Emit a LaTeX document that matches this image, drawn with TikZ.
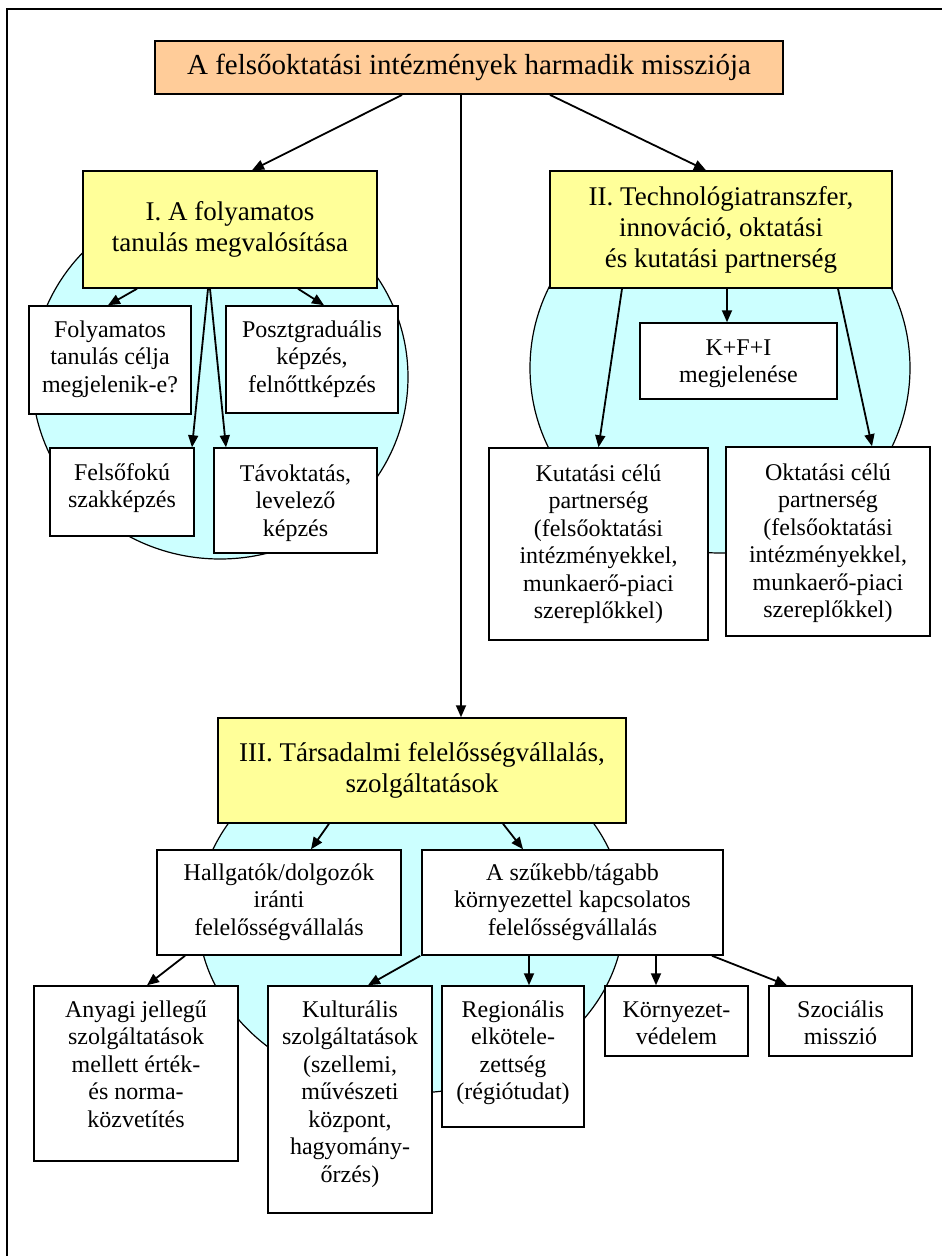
\documentclass[tikz,border=0pt]{standalone}
\usepackage{fontspec}
\setmainfont{Liberation Serif}
\usetikzlibrary{arrows.meta,shadows}
\definecolor{peach}{HTML}{FFCC99}
\definecolor{lemon}{HTML}{FFFF99}
\definecolor{aqua}{HTML}{CCFFFF}
\newcommand{\wbt}[4][32]{\parbox[c][#3pt][t]{#2pt}{\centering\fontsize{24}{27.5}\selectfont\rule{0pt}{#1pt}#4\par}}
\begin{document}
\begin{tikzpicture}[x=1pt,y=-1pt,
  arr/.style={-{Triangle[length=12pt,width=10pt]},line width=1.8pt},
  shad/.style={drop shadow={shadow xshift=1.2pt,shadow yshift=-1.2pt,fill=black!45}},
  wbox/.style={draw,fill=white,line width=1.5pt,inner sep=0pt,shad},
  ybox/.style={draw,fill=lemon,line width=1.5pt,inner sep=0pt,align=center,shad,
    font=\fontsize{27}{31}\selectfont},
  tbox/.style={draw,fill=peach,line width=1.8pt,inner sep=0pt,align=center,shad,
    font=\fontsize{29}{33}\selectfont},
  oval/.style={draw,fill=aqua,line width=1.2pt}]
\useasboundingbox (0,0) rectangle (942,1256);
\fill[white] (0,0) rectangle (942,1256);
\draw[line width=2pt] (7,1300) -- (7,9) -- (960,9);

% ellipses
\draw[oval] (220,377) ellipse [x radius=188pt, y radius=182pt];
\draw[oval] (720,368) ellipse [x radius=190pt, y radius=185pt];
\draw[oval] (411,915) ellipse [x radius=213pt, y radius=178pt];

% title and main boxes
\node[tbox, minimum width=628pt, minimum height=53pt] (T) at (469,67.5)
  {A felsőoktatási intézmények harmadik missziója};
\node[ybox, minimum width=294pt, minimum height=117pt] (B1) at (230,229.5)
  {I. A folyamatos\\tanulás megvalósítása};
\node[ybox, minimum width=342pt, minimum height=117pt] (B2) at (721,229.5)
  {II. Technológiatranszfer,\\innováció, oktatási\\és kutatási partnerség};
\node[ybox, minimum width=408pt, minimum height=105pt] (B3) at (422,770.5)
  {III. Társadalmi felelősségvállalás,\\szolgáltatások};

% group I
\node[wbox] (F1) at (110,360) {\wbt[31]{162}{108}{Folyamatos\\tanulás célja\\megjelenik-e?}};
\node[wbox] (F2) at (312,359.5) {\wbt[31]{172}{107}{Posztgraduális\\képzés,\\felnőttképzés}};
\node[wbox] (F3) at (122,492) {\wbt{144}{88}{Felsőfokú\\szakképzés}};
\node[wbox] (F4) at (295.5,500.5) {\wbt[33]{163}{105}{Távoktatás,\\levelező\\képzés}};

% group II
\node[wbox] (K) at (738.5,361) {\wbt{197}{76}{K+F+I\\megjelenése}};
\node[wbox] (P1) at (598.5,544) {\wbt[33]{219}{192}{Kutatási célú\\partnerség\\(felsőoktatási\\intézményekkel,\\munkaerő-piaci\\szereplőkkel)}};
\node[wbox] (P2) at (828,541.5) {\wbt[33]{204}{189}{Oktatási célú\\partnerség\\(felsőoktatási\\intézményekkel,\\munkaerő-piaci\\szereplőkkel)}};

% group III
\node[wbox] (H) at (279,902.5) {\wbt[30]{244}{105}{Hallgatók/dolgozók\\iránti\\felelősségvállalás}};
\node[wbox] (S) at (572.5,902.5) {\wbt[30]{301}{105}{A szűkebb/tágabb\\környezettel kapcsolatos\\felelősségvállalás}};
\node[wbox] (A) at (136,1073.5) {\wbt[31]{204}{175}{Anyagi jellegű\\szolgáltatások\\mellett érték-\\és norma-\\közvetítés}};
\node[wbox] (C) at (350,1099.5) {\wbt[31]{164}{227}{Kulturális\\szolgáltatások\\(szellemi,\\művészeti\\központ,\\hagyomány-\\őrzés)}};
\node[wbox] (R) at (513,1056.5) {\wbt[31]{142}{141}{Regionális\\elkötele-\\zettség\\(régiótudat)}};
\node[wbox] (E) at (676.5,1021) {\wbt[31]{143}{70}{Környezet-\\védelem}};
\node[wbox] (Z) at (840.5,1021) {\wbt[31]{143}{70}{Szociális\\misszió}};

% connectors
\draw[arr] ([xshift=-67pt]T.south) -- ([xshift=22pt]B1.north);
\draw[arr] ([xshift=81pt]T.south) -- ([xshift=-15pt]B2.north);
\draw[arr] ([xshift=-8pt]T.south) -- ([xshift=39pt]B3.north);

\draw[arr] ([xshift=-93pt]B1.south) -- ([xshift=-2pt]F1.north);
\draw[arr] ([xshift=68pt]B1.south) -- ([xshift=12pt]F2.north);
\draw[arr] ([xshift=-22pt]B1.south) -- ([xshift=70pt]F3.north);
\draw[arr] ([xshift=-20pt]B1.south) -- ([xshift=-69.5pt]F4.north);

\draw[arr] ([xshift=6pt]B2.south) -- ([xshift=-11.5pt]K.north);
\draw[arr] ([xshift=-99pt]B2.south) -- (P1.north);
\draw[arr] ([xshift=117pt]B2.south) -- ([xshift=44pt]P2.north);

\draw[arr] ([xshift=-93pt]B3.south) -- ([xshift=32pt]H.north);
\draw[arr] ([xshift=81pt]B3.south) -- ([xshift=-49.5pt]S.north);

\draw[arr] ([xshift=-94pt]H.south) -- ([xshift=11pt]A.north);
\draw[arr] ([xshift=-1pt]S.south west) -- ([xshift=18pt]C.north);
\draw[arr] ([xshift=-43.5pt]S.south) -- ([xshift=16pt]R.north);
\draw[arr] ([xshift=83.5pt]S.south) -- ([xshift=-20.5pt]E.north);
\draw[arr] ([xshift=139.5pt]S.south) -- ([xshift=-53.5pt]Z.north);
\end{tikzpicture}
\end{document}
